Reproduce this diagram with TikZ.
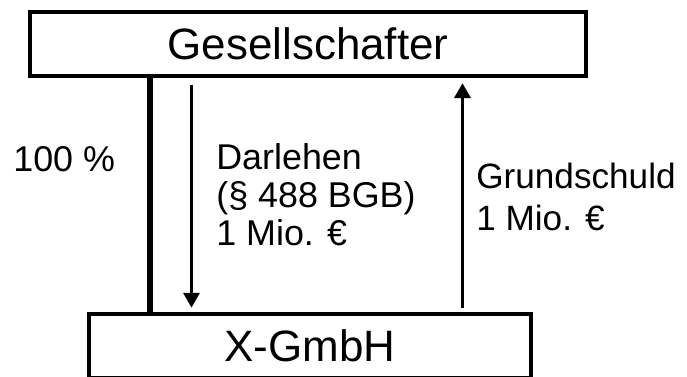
\documentclass[tikz,border=0pt]{standalone}
\usepackage{fontspec}
\setmainfont{Liberation Sans}
\usetikzlibrary{arrows.meta,positioning}

\begin{document}
\begin{tikzpicture}[scale=0.2]
        \tikzstyle{every node}+=[inner sep=0pt]
        \tikzstyle{partei}=[draw, line width=2.5pt, minimum height=1.28cm, font=\fontsize{25}{28}\selectfont]
        \tikzstyle{beschr}=[anchor=base west, align=left, font=\fontsize{20.4}{21.6}\selectfont]
        \tikzstyle{fluss}=[line width=2.2pt, -{Triangle[width=9pt,length=8.5pt]}]
        \useasboundingbox (0,0) rectangle (68.7,-37.6);
        \node [partei, minimum width=11.12cm] (gesell) at (30.8,-4.4) {Gesellschafter};
        \node [partei, minimum width=8.84cm] (gmbh) at (31,-34.6) {X-GmbH};
        \coordinate (anteil) at (15,0);
        \coordinate (darl) at (19.15,0);
        \coordinate (grund) at (46.25,0);
        \draw [black, line width=3pt] (gesell.south -| anteil) -- (gmbh.north -| anteil);
        \draw [black, fluss, shorten <=4pt, shorten >=2.3pt] (gesell.south -| darl) -- (gmbh.north -| darl);
        \draw [black, fluss, shorten <=2.3pt, shorten >=2.8pt] (gmbh.north -| grund) -- (gesell.south -| grund);
        \node [beschr] (prozent) at (1.3,-17.2) {100 \%};
        \node [beschr] (darlehen) at (21.6,-24.5) {Darlehen\\(§ 488 BGB)\\1 Mio. €};
        \node [beschr, font=\fontsize{20}{23.8}\selectfont] (grundschuld) at (47.6,-23.0) {Grundschuld\\1 Mio. €};
\end{tikzpicture}
\end{document}
